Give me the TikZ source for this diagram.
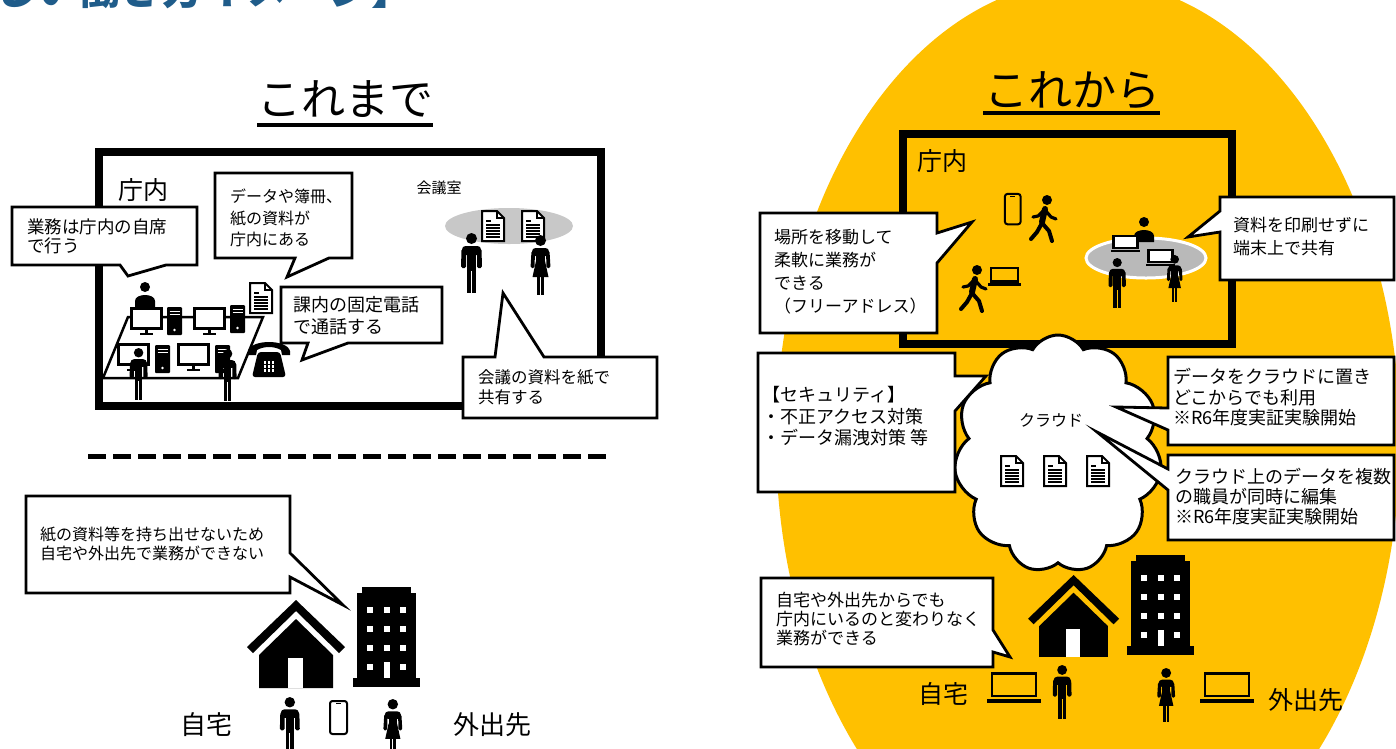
\documentclass[tikz,border=0pt]{standalone}
\usepackage{fontspec}
\setmainfont{Noto Sans CJK JP}
\usetikzlibrary{shapes.symbols}

\definecolor{gold}{RGB}{255,192,0}
\definecolor{titleblue}{RGB}{31,92,138}
\definecolor{tablegray}{RGB}{200,200,200}
\definecolor{tablegrayB}{RGB}{185,185,185}

\newcommand\setfs[2]{\fontsize{#1}{#2}\selectfont}

% rectangular speech balloons: l t r b, base a1 a2 along the side, tip x y
\newcommand\calloutB[8]{\path[callout] (#1,#2) -- (#3,#2) -- (#3,#4) -- (#6,#4) -- (#7,#8) -- (#5,#4) -- (#1,#4) -- cycle;}
\newcommand\calloutT[8]{\path[callout] (#1,#2) -- (#5,#2) -- (#7,#8) -- (#6,#2) -- (#3,#2) -- (#3,#4) -- (#1,#4) -- cycle;}
\newcommand\calloutR[8]{\path[callout] (#1,#2) -- (#3,#2) -- (#3,#5) -- (#7,#8) -- (#3,#6) -- (#3,#4) -- (#1,#4) -- cycle;}
\newcommand\calloutL[8]{\path[callout] (#1,#2) -- (#3,#2) -- (#3,#4) -- (#1,#4) -- (#1,#6) -- (#7,#8) -- (#1,#5) -- cycle;}

\tikzset{
  callout/.style={draw=black, fill=white, line width=2.8pt, line join=miter},
  roomwall/.style={draw=black, line width=8.5pt, line join=miter},
  note/.style={anchor=west, inner sep=0pt, align=left},
  label/.style={inner sep=0pt},
  pics/man/.style={code={
    \fill (13.5,5.5) circle (5.5);
    \fill[rounded corners=3.5] (4,13) rectangle (23,22);
    \fill[rounded corners=1.5] (3.5,16) -- (8,16) -- (8,35) -- (3,35) -- cycle;
    \fill[rounded corners=1.5] (19,16) -- (23.5,16) -- (24,35) -- (19,35) -- cycle;
    \fill (9,16) rectangle (18,38);
    \fill (9,37) rectangle (13,60);
    \fill (14,37) rectangle (18,60);
  }},
  pics/woman/.style={code={
    \fill (13.5,5.5) circle (5.5);
    \fill[rounded corners=3.5] (5,13) rectangle (22,21);
    \fill[rounded corners=1.5] (4.5,16) -- (8,16) -- (7.5,33) -- (3.5,33) -- cycle;
    \fill[rounded corners=1.5] (19,16) -- (22.5,16) -- (23.5,33) -- (19.5,33) -- cycle;
    \fill (9,16) rectangle (18,27);
    \fill (9,26) -- (18,26) -- (21.5,42) -- (5.5,42) -- cycle;
    \fill (10,41) rectangle (13,60);
    \fill (14,41) rectangle (17,60);
  }},
  pics/sitter/.style={code={
    \fill (10,5) circle (5);
    \fill (0,25) -- (0,19) .. controls (0,11) and (20,11) .. (20,19) -- (20,25) -- cycle;
  }},
  pics/walker/.style={code={
    \fill (19,5) circle (5);
    \draw[line width=6pt, line cap=round] (17,14) -- (14,27);
    \draw[line width=4pt, line cap=round, line join=round] (14,28) -- (21,36) -- (24,46);
    \draw[line width=4pt, line cap=round, line join=round] (14,28) -- (9,37) -- (3,44);
    \draw[line width=3.2pt, line cap=round, line join=round] (17,15) -- (23,22) -- (28,24);
    \draw[line width=3.2pt, line cap=round, line join=round] (16,15) -- (10,21) -- (5,22);
  }},
  pics/doc/.style={code={
    \draw[line width=2pt, fill=white, line join=miter] (1,1) -- (16,1) -- (23,8) -- (23,31) -- (1,31) -- cycle;
    \draw[line width=1.4pt] (16,1) -- (16,8) -- (23,8);
    \draw[line width=1.3pt] (5,11) -- (10,11);
    \foreach \yy in {15,18,21,24,27} \draw[line width=1.5pt] (5,\yy) -- (19,\yy);
  }},
  pics/laptop/.style={code={
    \draw[line width=2.5pt, fill=#1] (5,1.5) rectangle (49,24);
    \fill (0,27) rectangle (54,31);
  }},
  pics/laptop/.default=none,
  pics/mobile/.style={code={
    \draw[line width=2pt, rounded corners=2.5] (1,1) rectangle (18,34);
    \draw[line width=1pt] (7,3.5) -- (12,3.5);
  }},
  pics/monitor/.style={code={
    \draw[line width=3pt, fill=white] (1.5,1.5) rectangle (31.5,21);
    \fill (15,21) rectangle (18,26);
    \fill (10,25.5) rectangle (23,28);
  }},
  pics/tower/.style={code={
    \fill[rounded corners=1] (0,0) rectangle (15,28);
    \draw[white, line width=1pt] (2.5,4) -- (12.5,4);
    \draw[white, line width=1pt] (2.5,7.5) -- (12.5,7.5);
    \fill[white] (7.5,23) circle (1.3);
  }},
  pics/deskphone/.style={code={
    \fill (0,13) .. controls (3,1) and (39,1) .. (42,13) -- (42,17) -- (34,17) -- (33,12)
          .. controls (26,8) and (16,8) .. (9,12) -- (8,17) -- (0,17) -- cycle;
    \fill[rounded corners=3] (10,14) -- (32,14) -- (38,39) -- (4,39) -- cycle;
    \foreach \i in {0,1,2} \foreach \j in {0,1,2}
      \fill[white] (15.5+\i*4,23+\j*4) rectangle ++(2.8,2.8);
  }},
  pics/house/.style={code={
    \fill (0,47) -- (49,0) -- (98,47) -- (92,53) -- (49,11) -- (6,53) -- cycle;
    \fill (12,88) -- (12,55) -- (49,19) -- (86,55) -- (86,88) -- cycle;
    \fill[white] (41,58) rectangle (56,88);
  }},
  pics/building/.style={code={
    \fill (9,0) rectangle (58,8);
    \fill (4,6) rectangle (63,92);
    \fill (0,91) rectangle (67,100);
    \foreach \cx in {17,34,50} \foreach \cy in {23,42,61}
      \fill[white] (\cx-3,\cy-3) rectangle ++(6,6);
    \fill[white] (14,77) rectangle ++(6,6);
    \fill[white] (47,77) rectangle ++(6,6);
    \fill[white] (31,75) rectangle (37,91);
  }},
}

\begin{document}
\begin{tikzpicture}[x=1pt, y=-1pt]
\useasboundingbox (0,0) rectangle (1396,748);
\begin{scope}
\clip (0,0) rectangle (1396,748);
\fill[white] (0,0) rectangle (1396,748);

% heading cut by the top edge
\node[anchor=base east, inner sep=0pt, text=titleblue, font=\setfs{42}{42}\bfseries] (heading) at (414,4) {【新しい働き方イメージ】};

% ---------------- left half: current way of working ----------------
\node[label, font=\setfs{44}{44}] (before) at (345,99) {これまで};
\draw[line width=4pt] (257,125) -- (433,125);

\draw[roomwall] (99,152) rectangle (601,406);

% desk island
\pic (sit1) at (135,282) {sitter};
\draw[line width=2.5pt, line join=miter] (128,317) -- (263,317) -- (238,378) -- (103,378) -- cycle;
\pic (mon1) at (130,307) {monitor};
\pic (pc1) at (167,307) {tower};
\pic (mon2) at (193,307) {monitor};
\pic (pc2) at (230,305) {tower};
\pic (mon3) at (117,343) {monitor};
\pic (pc3) at (155,345) {tower};
\pic (mon4) at (177,343) {monitor};
\pic (pc4) at (215,345) {tower};
\pic[scale=0.86] (deskman1) at (127,348) {man};
\pic[scale=0.86] (deskman2) at (216,349) {man};
\pic (deskdoc) at (249,282) {doc};
\pic (phone) at (248,338) {deskphone};

% meeting room
\fill[tablegray] (509,226) ellipse [x radius=64, y radius=18];
\pic (mdoc1) at (481,210) {doc};
\pic (mdoc2) at (521,210) {doc};
\pic (mman) at (458,233) {man};
\pic (mwoman) at (527,235) {woman};

\node[label, font=\setfs{25}{25}] (office1) at (143,190) {庁内};
\node[label, font=\setfs{15}{15}] (meetroom) at (439,188) {会議室};

\calloutB{12}{207}{197}{265}{120}{166}{128}{276}
\node[note, font=\setfs{17.5}{19}] (tseat) at (27,236) {業務は庁内の自席\\で行う};
\calloutB{215}{173}{352}{258}{295}{329}{287}{277}
\node[note, font=\setfs{16}{21.5}] (tdata) at (230,218) {データや簿冊、\\紙の資料が\\庁内にある};
\calloutB{281}{287}{442}{343}{308}{348}{302}{360}
\node[note, font=\setfs{18}{22}] (tphone) at (293,316) {課内の固定電話\\で通話する};
\calloutT{463}{357}{657}{418}{495}{544}{503}{293}
\node[note, font=\setfs{16.5}{20}] (tmeet) at (478,387) {会議の資料を紙で\\共有する};

% separator
\draw[line width=5pt, dash pattern=on 18pt off 7pt] (88,456) -- (612,456);

% outside the office
\calloutR{26}{496}{290}{593}{553}{577}{343}{605}
\node[note, font=\setfs{16}{18.5}] (tout) at (40,544) {紙の資料等を持ち出せないため\\自宅や外出先で業務ができない};
\pic (home1) at (247,600) {house};
\pic (bldg1) at (353,587) {building};
\pic[scale=0.95] (oman) at (277,697) {man};
\pic (omobile) at (329,700) {mobile};
\pic[scale=0.95] (owoman) at (380,699) {woman};
\node[label, font=\setfs{26}{26}] (home1lbl) at (206,725) {自宅};
\node[label, font=\setfs{26}{26}] (away1lbl) at (492,725) {外出先};

% ---------------- right half: future way of working ----------------
\fill[gold] (1088,440) ellipse [x radius=312, y radius=460];
\node[label, font=\setfs{44}{44}] (after) at (1072,90) {これから};
\draw[line width=4pt] (983,113) -- (1160,113);

\draw[roomwall] (903,134) rectangle (1232,344);
\node[label, font=\setfs{25}{25}] (office2) at (942,161) {庁内};

\pic[scale=0.92] (rmobile) at (1004,193) {mobile};
\pic (walk1) at (1028,195) {walker};
\pic (walk2) at (958,265) {walker};
\pic[scale=0.61] (walklap) at (988,267) {laptop};

\draw[white, line width=3pt, fill=tablegrayB] (1146,258) ellipse [x radius=60, y radius=20];
\pic (rsit) at (1134,217) {sitter};
\pic[scale=0.54] (rlap1) at (1111,235) {laptop=white};
\pic[scale=0.54] (rlap2) at (1146,249) {laptop=white};
\pic[scale=0.83] (rman) at (1106,258) {man};
\pic[scale=0.79] (rwoman) at (1164,255) {woman};

% cloud storage
\node[cloud, cloud puffs=11, cloud puff arc=120, cloud ignores aspect,
      minimum width=208pt, minimum height=238pt, draw, fill=white,
      line width=3pt, inner sep=0pt] (cloud) at (1058,454) {};
\node[label, font=\setfs{16}{16}] (cloudlbl) at (1051,420) {クラウド};
\pic (cdoc1) at (1000,455) {doc};
\pic (cdoc2) at (1043,455) {doc};
\pic (cdoc3) at (1086,455) {doc};

\pic[scale=0.93] (home2) at (1028,575) {house};
\pic (bldg2) at (1127,555) {building};
\pic (hlap) at (987,672) {laptop};
\pic[scale=0.9] (hman) at (1050,665) {man};
\pic[scale=0.9] (awoman) at (1154,668) {woman};
\pic (alap) at (1200,672) {laptop};
\node[label, font=\setfs{25}{25}] (home2lbl) at (943,694) {自宅};
\node[label, font=\setfs{25}{25}] (away2lbl) at (1306,700) {外出先};

\calloutR{760}{213}{937}{333}{233}{263}{972}{222}
\node[note, font=\setfs{17}{23}] (tfree) at (774,272) {場所を移動して\\柔軟に業務が\\できる\\（フリーアドレス）};
\calloutL{1220}{197}{1394}{280}{211}{232}{1188}{237}
\node[note, font=\setfs{17}{23}] (tpaper) at (1233,236.5) {資料を印刷せずに\\端末上で共有};
\calloutR{758}{353}{955}{492}{376}{411}{986}{376}
\node[note, font=\setfs{18}{21.5}] (tsec) at (762,416.5) {【セキュリティ】\\・不正アクセス対策\\・データ漏洩対策 等};
\calloutL{1168}{357}{1394}{445}{408}{430}{1116}{407}
\node[note, font=\setfs{18}{20.5}] (tshare) at (1173,397.5) {データをクラウドに置き\\どこからでも利用\\※R6年度実証実験開始};
\calloutL{1168}{455}{1394}{540}{469}{490}{1097}{432}
\node[note, font=\setfs{18}{20}] (tcoedit) at (1175,497) {クラウド上のデータを複数\\の職員が同時に編集\\※R6年度実証実験開始};
\calloutR{761}{578}{993}{667}{630}{652}{1010}{657}
\node[note, font=\setfs{17}{19}] (tremote) at (776,619) {自宅や外出先からでも\\庁内にいるのと変わりなく\\業務ができる};
\end{scope}
\end{tikzpicture}
\end{document}
